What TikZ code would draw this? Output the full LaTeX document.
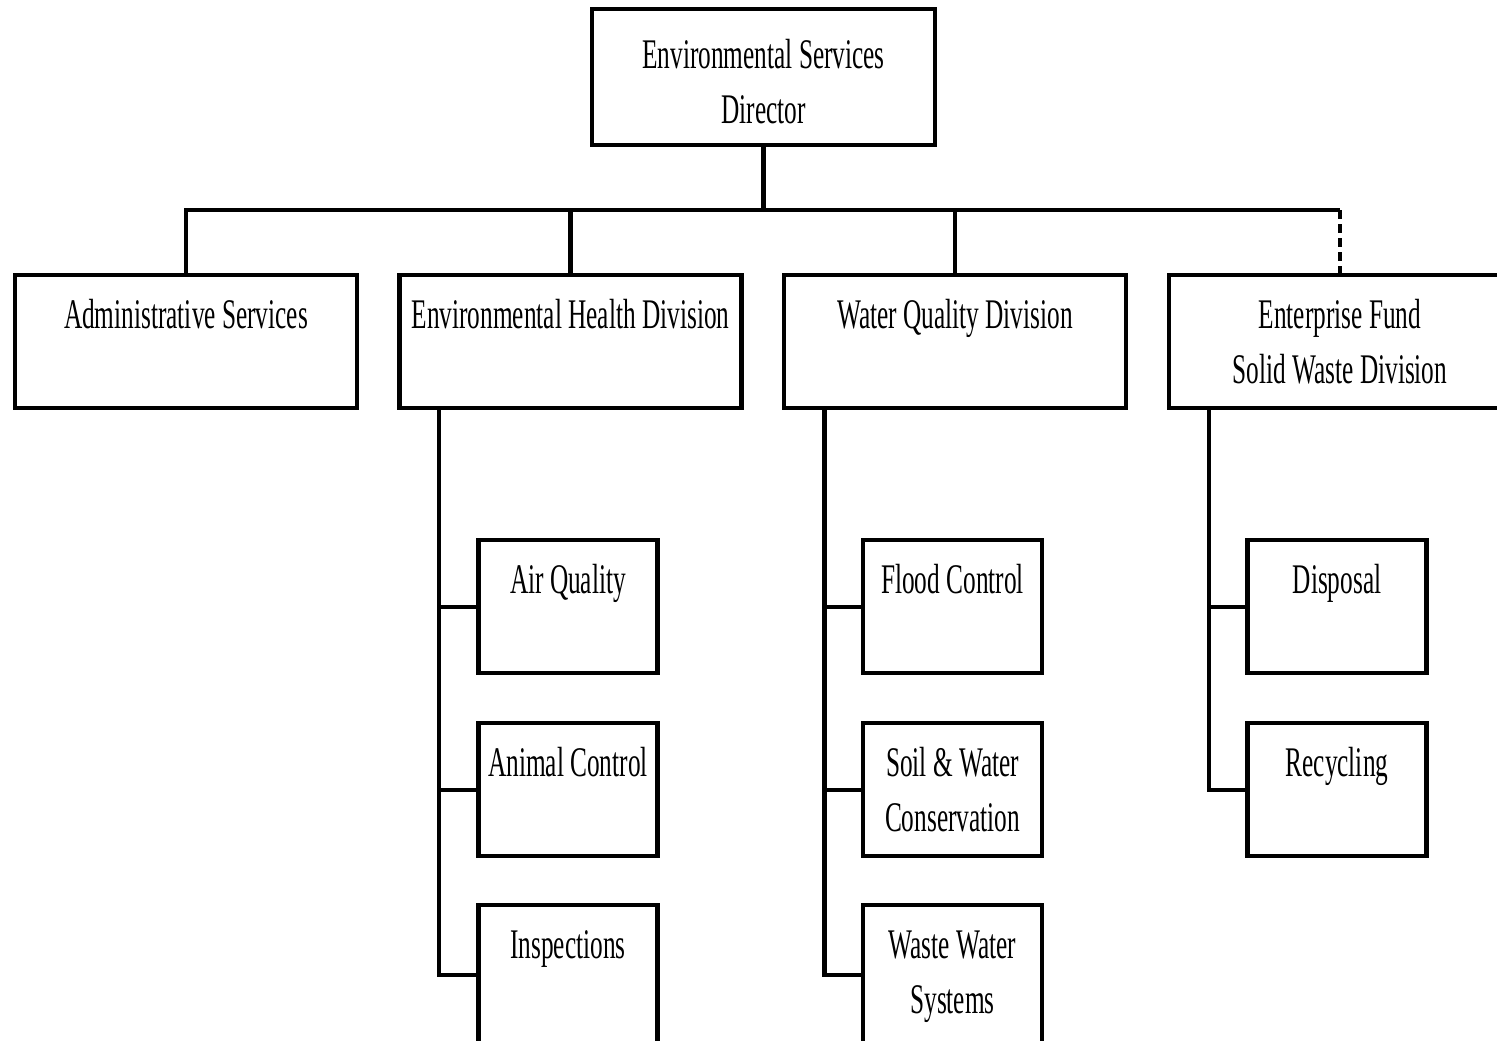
\documentclass[tikz,border=0pt]{standalone}
\usepackage{fontspec}
\setmainfont{Liberation Serif}[FakeStretch=0.6]
\begin{document}
\begin{tikzpicture}[x={(0.1mm,0mm)},y={(0mm,-0.1mm)},line width=1.15pt,
  box/.style={draw,inner sep=0pt,align=center,minimum width=#1,text height=5.35mm,text depth=7.95mm,
    font=\fontsize{12pt}{15.6pt}\selectfont},
  box/.default=34.2mm,
  twoline/.style={box=#1,text height=10.85mm,text depth=2.45mm},
  twoline/.default=34.2mm]
\useasboundingbox (0,0) rectangle (1497,1040);
\clip (0,0) rectangle (1497,1040);
\node[twoline=34.3mm,text height=11.4mm,text depth=2.2mm] (dir) at (763.5,77) {Environmental Services\\Director};
\node[box] (admin) at (186,341.5) {Administrative Services};
\node[box] (envh) at (570.5,341.5) {Environmental Health Division};
\node[box] (waterq) at (955,341.5) {Water Quality Division};
\node[twoline] (solidw) at (1340,341.5) {Enterprise Fund\\Solid Waste Division};
\node[box=17.9mm] (airq) at (568,606.5) {Air Quality};
\node[box=17.9mm] (animal) at (568,789.5) {Animal Control};
\node[box=17.9mm,text depth=8.6mm] (insp) at (568,975) {Inspections};
\node[box=17.9mm] (flood) at (952.5,606.5) {Flood Control};
\node[twoline=17.9mm] (soil) at (952.5,789.5) {Soil \& Water\\Conservation};
\node[twoline=17.9mm,text depth=3.1mm] (wastew) at (952.5,975) {Waste Water\\Systems};
\node[box=17.9mm] (disp) at (1337,606.5) {Disposal};
\node[box=17.9mm] (recyc) at (1337,789.5) {Recycling};
\coordinate (bus) at (763.5,210);
\draw (dir.south) -- (bus);
\draw (admin.north) |- (solidw.north |- bus);
\draw (envh.north) -- (envh.north |- bus);
\draw (waterq.north) -- (waterq.north |- bus);
\draw[dash pattern=on 2.6pt off 1.4pt] (solidw.north |- bus) -- (solidw.north);
\draw ([xshift=-3.75mm]airq.west |- envh.south) |- (insp.west);
\draw ([xshift=-3.75mm]airq.west) -- (airq.west);
\draw ([xshift=-3.75mm]animal.west) -- (animal.west);
\draw ([xshift=-3.65mm]flood.west |- waterq.south) |- (wastew.west);
\draw ([xshift=-3.65mm]flood.west) -- (flood.west);
\draw ([xshift=-3.65mm]soil.west) -- (soil.west);
\draw ([xshift=-3.65mm]disp.west |- solidw.south) |- (recyc.west);
\draw ([xshift=-3.65mm]disp.west) -- (disp.west);
\end{tikzpicture}
\end{document}
